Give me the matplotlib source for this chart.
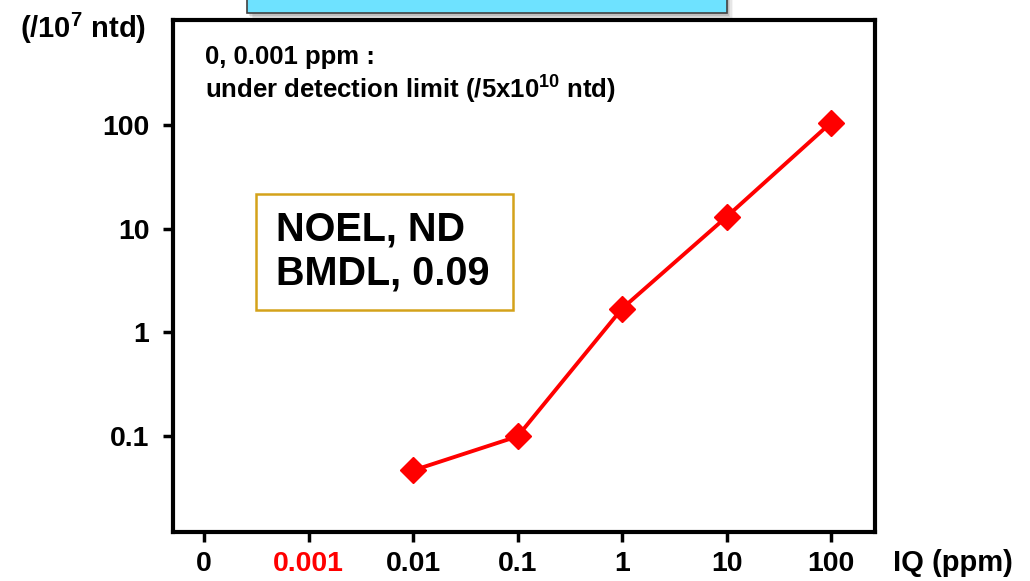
import matplotlib.pyplot as plt
from matplotlib.patches import Rectangle
from matplotlib.ticker import FixedLocator, NullLocator

plt.rcParams['font.family'] = ['Liberation Sans', 'DejaVu Sans']
plt.rcParams['font.weight'] = 'bold'
plt.rcParams['mathtext.fontset'] = 'custom'
plt.rcParams['mathtext.rm'] = 'Liberation Sans:bold'
plt.rcParams['mathtext.bf'] = 'Liberation Sans:bold'

# x categories (equally spaced), first two are below detection limit
dose_labels = ["0", "0.001", "0.01", "0.1", "1", "10", "100"]
dose_label_colors = ["black", "red", "black", "black", "black", "black", "black"]

# detected points: index into dose_labels and value (/10^7 ntd)
detected_idx = [2, 3, 4, 5, 6]
adduct_values = [0.047, 0.10, 1.7, 13, 105]

y_ticks = [0.1, 1, 10, 100]
y_tick_labels = ["0.1", "1", "10", "100"]

fig = plt.figure(figsize=(10.30, 5.81), dpi=100)
ax = fig.add_axes([0.168, 0.0843, 0.6815, 0.8813])

ax.plot(detected_idx, adduct_values, color="red", lw=2.8,
        marker="D", markersize=13, markerfacecolor="red", markeredgecolor="red")

ax.set_yscale("log")
ax.set_ylim(0.012, 1020)
ax.set_xlim(-0.297, 6.42)

ax.yaxis.set_major_locator(FixedLocator(y_ticks))
ax.yaxis.set_minor_locator(NullLocator())
ax.set_yticklabels(y_tick_labels)
ax.set_xticks(range(len(dose_labels)))
ax.set_xticklabels(dose_labels)
for lbl, c in zip(ax.get_xticklabels(), dose_label_colors):
    lbl.set_color(c)

ax.tick_params(axis="both", labelsize=20.5, length=7, width=2.5, direction="out")
ax.tick_params(axis="y", pad=10)
ax.tick_params(axis="x", pad=7)
for s in ax.spines.values():
    s.set_linewidth(3)

# axis labels
fig.text(0.019, 0.951, "(/10$^{7}$ ntd)", fontsize=21, fontweight="bold",
         ha="left", va="center")
fig.text(0.867, 0.031, "IQ (ppm)", fontsize=21, fontweight="bold",
         ha="left", va="center")

# detection-limit note
ax.text(0.0456, 0.928, "0, 0.001 ppm :", transform=ax.transAxes,
        fontsize=18.5, fontweight="bold", va="center")
ax.text(0.0456, 0.867, "under detection limit (/5x10$^{10}$ ntd)",
        transform=ax.transAxes, fontsize=18.5, fontweight="bold", va="center")

# NOEL / BMDL box
ax.add_patch(Rectangle((0.118, 0.434), 0.366, 0.226, transform=ax.transAxes,
                       facecolor="white", edgecolor="#D4A21A", linewidth=1.8))
ax.text(0.147, 0.547, "NOEL, ND\nBMDL, 0.09", transform=ax.transAxes,
        fontsize=28.5, fontweight="bold", va="center", ha="left", linespacing=1.2)

# title box cut off at top, with soft shadow
for i, a in enumerate([0.10, 0.08, 0.06, 0.04]):
    d = (i + 1) * 1.5
    fig.patches.append(Rectangle(((247 + d) / 1030, 1 - (14 + d) / 581),
                                 480 / 1030, 40 / 581, transform=fig.transFigure,
                                 facecolor="black", alpha=a, edgecolor="none"))
fig.patches.append(Rectangle((247 / 1030, 1 - 13 / 581), 480 / 1030, 40 / 581,
                             transform=fig.transFigure, facecolor="#6EE2FF",
                             edgecolor="#404040", linewidth=1.2))

fig.savefig("out.png", dpi=100)
